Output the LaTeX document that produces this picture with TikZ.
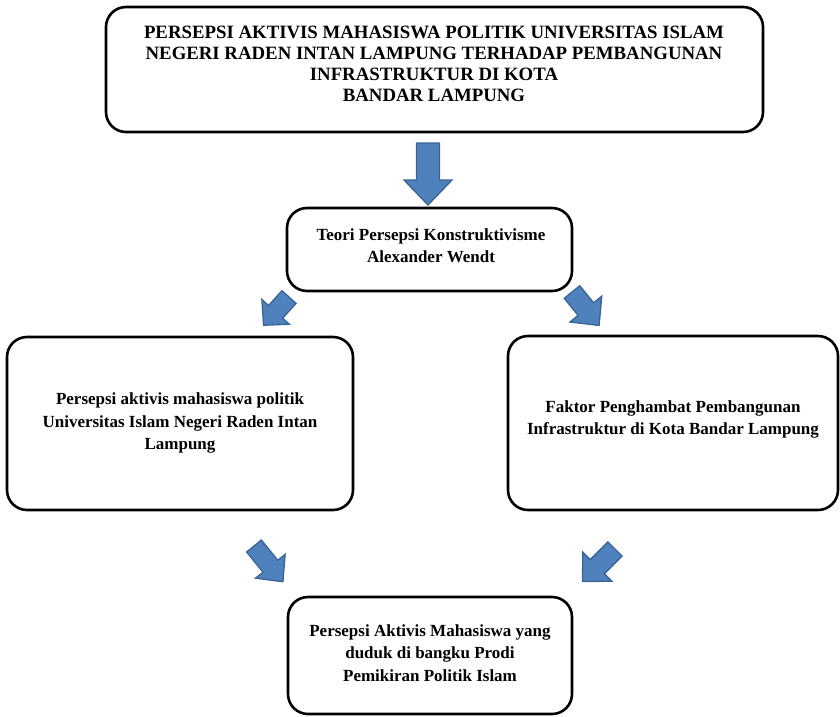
\documentclass[tikz,border=0pt]{standalone}
\usepackage{fontspec}
\setmainfont{Liberation Serif}
\begin{document}
\begin{tikzpicture}[x=1pt,y=-1pt,
  boxnode/.style={draw=black, line width=2.6pt, rounded corners=20pt, fill=white},
  txt/.style={align=center, font=\fontsize{17}{22.5}\selectfont\bfseries, inner sep=0pt},
  ttl/.style={align=center, font=\fontsize{18.8}{21}\selectfont\bfseries, inner sep=0pt},
  blk/.style={fill=arrowfill, draw=arrowline, line width=1.3pt, line join=miter}
]
\definecolor{arrowfill}{HTML}{4F81BD}
\definecolor{arrowline}{HTML}{3B6496}
\useasboundingbox (0,0) rectangle (840,716);
% arrow macro: tail centre x,y ; angle ; length ; shaft ; head width ; head length
\newcommand{\blockarr}[7]{%
  \begin{scope}[shift={(#1,#2)}, rotate=#3]
    \path[blk] (0,{#5/2}) -- ({#4-#7},{#5/2}) -- ({#4-#7},{#6/2}) -- (#4,0)
      -- ({#4-#7},{-#6/2}) -- ({#4-#7},{-#5/2}) -- (0,{-#5/2}) -- cycle;
  \end{scope}}
% boxes
\draw[boxnode] (106,7) rectangle (763,132);
\node (topbox) at (434.5,69.5) [minimum width=657pt, minimum height=125pt] {};
\draw[boxnode] (287,208) rectangle (572,291);
\node (midbox) at (429.5,249.5) [minimum width=285pt, minimum height=83pt] {};
\draw[boxnode] (7,337) rectangle (353,510);
\node (leftbox) at (180,423.5) [minimum width=346pt, minimum height=173pt] {};
\draw[boxnode] (508,336) rectangle (838,510);
\node (rightbox) at (673,423) [minimum width=330pt, minimum height=174pt] {};
\draw[boxnode] (288,597) rectangle (572,714);
\node (botbox) at (430,655.5) [minimum width=284pt, minimum height=117pt] {};
% texts
\node[ttl] (ttitle) at (434,64) {PERSEPSI AKTIVIS MAHASISWA POLITIK UNIVERSITAS ISLAM\\NEGERI RADEN INTAN LAMPUNG TERHADAP PEMBANGUNAN\\INFRASTRUKTUR DI KOTA\\BANDAR LAMPUNG};
\node[txt] (tmid) at (431,245.5) {Teori Persepsi Konstruktivisme\\Alexander Wendt};
\node[txt] (tleft) at (180,423) {Persepsi aktivis mahasiswa politik\\Universitas Islam Negeri Raden Intan\\Lampung};
\node[txt] (tright) at (673,419.5) {Faktor Penghambat Pembangunan\\Infrastruktur di Kota Bandar Lampung};
\node[txt] (tbot) at (430,653) {Persepsi Aktivis Mahasiswa yang\\duduk di bangku Prodi\\Pemikiran Politik Islam};
% block arrows
\blockarr{428}{143}{-90}{62}{23}{48}{25}
\blockarr{289}{297}{-132}{38}{19}{37}{18}
\blockarr{572}{292}{-51}{43}{20}{41}{21}
\blockarr{254}{546}{-51}{46}{19}{38}{20}
\blockarr{615}{549}{-135}{46}{20}{41}{21}
\end{tikzpicture}
\end{document}
